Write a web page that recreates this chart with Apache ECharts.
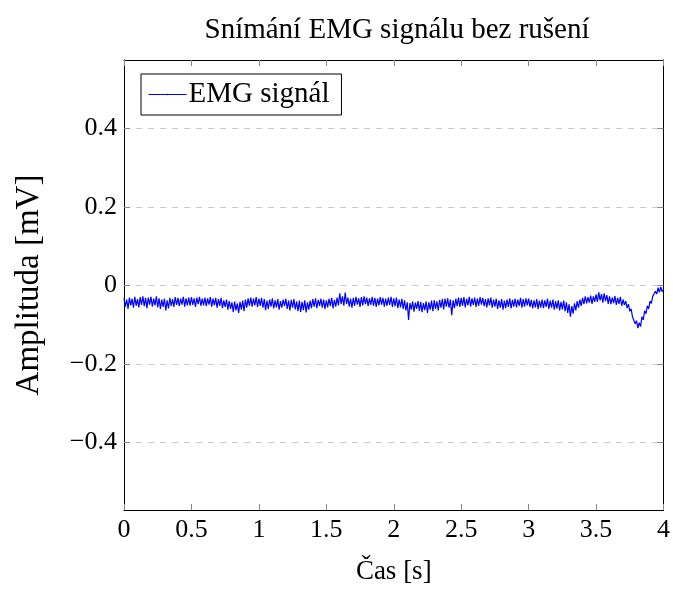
<!DOCTYPE html>
<html>
<head>
<meta charset="utf-8">
<script src="https://cdn.jsdelivr.net/npm/echarts@6/dist/echarts.min.js"></script>
<style>
  html, body { margin: 0; padding: 0; background: #fff; }
  #chart { width: 673px; height: 590px; }
</style>
</head>
<body>
<div id="chart"></div>
<script>
// EMG signal, sampled every 0.01 s from 0 to 4 s
var sampleStep = 0.01;
var emgValues = [
  -0.033,-0.054,-0.036,-0.060,-0.031,-0.051,-0.034,-0.057,-0.029,-0.052,
  -0.035,-0.056,-0.030,-0.050,-0.028,-0.053,-0.032,-0.058,-0.031,-0.049,
  -0.029,-0.054,-0.034,-0.051,-0.028,-0.056,-0.033,-0.060,-0.036,-0.055,
  -0.034,-0.064,-0.038,-0.059,-0.032,-0.052,-0.035,-0.055,-0.030,-0.050,
  -0.032,-0.053,-0.034,-0.049,-0.029,-0.054,-0.033,-0.051,-0.031,-0.052,
  -0.030,-0.050,-0.033,-0.055,-0.031,-0.048,-0.029,-0.052,-0.034,-0.051,
  -0.031,-0.053,-0.033,-0.049,-0.030,-0.054,-0.034,-0.051,-0.032,-0.057,
  -0.035,-0.052,-0.032,-0.058,-0.038,-0.055,-0.036,-0.062,-0.040,-0.060,
  -0.043,-0.068,-0.041,-0.064,-0.046,-0.070,-0.042,-0.062,-0.039,-0.066,
  -0.036,-0.057,-0.033,-0.052,-0.031,-0.054,-0.034,-0.051,-0.030,-0.055,
  -0.034,-0.052,-0.032,-0.057,-0.035,-0.063,-0.039,-0.060,-0.036,-0.054,
  -0.033,-0.059,-0.038,-0.056,-0.035,-0.062,-0.040,-0.057,-0.036,-0.053,
  -0.034,-0.060,-0.039,-0.064,-0.037,-0.057,-0.035,-0.061,-0.041,-0.066,
  -0.039,-0.068,-0.042,-0.063,-0.038,-0.069,-0.043,-0.062,-0.039,-0.058,
  -0.035,-0.054,-0.033,-0.058,-0.037,-0.052,-0.034,-0.057,-0.036,-0.060,
  -0.038,-0.056,-0.034,-0.053,-0.032,-0.059,-0.037,-0.054,-0.031,-0.051,
  -0.020,-0.048,-0.028,-0.052,-0.018,-0.047,-0.031,-0.054,-0.034,-0.057,
  -0.032,-0.052,-0.029,-0.049,-0.033,-0.055,-0.030,-0.051,-0.028,-0.048,
  -0.031,-0.053,-0.033,-0.050,-0.029,-0.052,-0.032,-0.055,-0.034,-0.051,
  -0.030,-0.049,-0.032,-0.054,-0.034,-0.052,-0.031,-0.050,-0.029,-0.055,
  -0.033,-0.053,-0.031,-0.058,-0.036,-0.056,-0.034,-0.060,-0.038,-0.064,
  -0.043,-0.088,-0.045,-0.062,-0.041,-0.067,-0.044,-0.060,-0.040,-0.065,
  -0.042,-0.068,-0.045,-0.063,-0.041,-0.070,-0.043,-0.062,-0.039,-0.066,
  -0.038,-0.060,-0.041,-0.064,-0.037,-0.057,-0.035,-0.061,-0.034,-0.054,
  -0.033,-0.057,-0.036,-0.076,-0.038,-0.058,-0.034,-0.053,-0.031,-0.055,
  -0.032,-0.052,-0.030,-0.056,-0.034,-0.051,-0.029,-0.054,-0.033,-0.050,
  -0.031,-0.055,-0.034,-0.052,-0.030,-0.049,-0.032,-0.053,-0.035,-0.056,
  -0.033,-0.051,-0.031,-0.057,-0.036,-0.054,-0.034,-0.060,-0.038,-0.057,
  -0.035,-0.062,-0.039,-0.058,-0.036,-0.055,-0.033,-0.059,-0.037,-0.054,
  -0.034,-0.056,-0.036,-0.052,-0.032,-0.057,-0.035,-0.054,-0.033,-0.051,
  -0.034,-0.055,-0.037,-0.059,-0.038,-0.056,-0.035,-0.060,-0.039,-0.057,
  -0.036,-0.058,-0.038,-0.055,-0.034,-0.060,-0.039,-0.057,-0.036,-0.062,
  -0.040,-0.059,-0.038,-0.064,-0.042,-0.061,-0.039,-0.066,-0.043,-0.070,
  -0.048,-0.080,-0.053,-0.072,-0.046,-0.064,-0.040,-0.057,-0.036,-0.052,
  -0.032,-0.048,-0.028,-0.046,-0.030,-0.044,-0.026,-0.047,-0.028,-0.042,
  -0.023,-0.042,-0.018,-0.038,-0.022,-0.044,-0.020,-0.040,-0.025,-0.047,
  -0.028,-0.048,-0.031,-0.045,-0.027,-0.050,-0.032,-0.047,-0.029,-0.052,
  -0.036,-0.050,-0.040,-0.058,-0.048,-0.066,-0.060,-0.080,-0.075,-0.098,
  -0.090,-0.109,-0.095,-0.105,-0.080,-0.088,-0.065,-0.072,-0.052,-0.060,
  -0.040,-0.046,-0.028,-0.032,-0.015,-0.022,-0.006,-0.018,-0.004,-0.016,
  -0.010
];
var yTicks = [-0.4, -0.2, 0, 0.2, 0.4];

var emgData = emgValues.map(function (v, i) {
  return [+(i * sampleStep).toFixed(2), v];
});

var font = "'Liberation Serif', 'DejaVu Serif', serif";
function fmt(v) {
  if (v === 0) return '0';
  return v < 0 ? '\u2212' + Math.abs(v) : String(v);
}

var chart = echarts.init(document.getElementById('chart'));
var tickStyle = { show: true, inside: true, length: 6, lineStyle: { color: '#888', width: 1 } };

var option = {
  backgroundColor: '#fff',
  animation: false,
  title: {
    text: 'Snímání EMG signálu bez rušení',
    left: 392,
    top: 11,
    textAlign: 'center',
    textStyle: { fontFamily: font, fontWeight: 'normal', fontSize: 29, color: '#000' }
  },
  legend: {
    left: 141,
    top: 74,
    orient: 'vertical',
    data: ['EMG signál'],
    backgroundColor: '#fff',
    borderColor: '#000',
    borderWidth: 1,
    borderRadius: 0,
    padding: [6, 12, 6, 7],
    itemWidth: 38,
    itemHeight: 2,
    itemGap: 4,
    lineStyle: { width: 1 },
    textStyle: { fontFamily: font, fontSize: 29, color: '#000', padding: [0, 0, 0, -3] }
  },
  grid: { left: 124, right: 8, top: 60, bottom: 77, containLabel: false },
  xAxis: [{
    type: 'value',
    min: 0, max: 4, interval: 0.5,
    name: 'Čas [s]',
    nameLocation: 'middle',
    nameGap: 48,
    nameTextStyle: { fontFamily: font, fontSize: 27, color: '#000' },
    axisLine: { show: true, onZero: false, lineStyle: { color: '#000', width: 1 } },
    axisTick: tickStyle,
    axisLabel: { fontFamily: font, fontSize: 26, color: '#000', margin: 7, formatter: fmt },
    splitLine: { show: false }
  }, {
    type: 'value',
    position: 'top',
    min: 0, max: 4, interval: 0.5,
    axisLine: { show: true, onZero: false, lineStyle: { color: '#000', width: 1 } },
    axisTick: tickStyle,
    axisLabel: { show: false },
    splitLine: { show: false }
  }],
  yAxis: [{
    type: 'value',
    min: -0.573, max: 0.575,
    name: 'Amplituda [mV]',
    nameLocation: 'middle',
    nameGap: 78,
    nameTextStyle: { fontFamily: font, fontSize: 33, color: '#000' },
    axisLine: { show: true, onZero: false, lineStyle: { color: '#000', width: 1 } },
    axisTick: Object.assign({ customValues: yTicks }, tickStyle),
    axisLabel: { customValues: yTicks, fontFamily: font, fontSize: 26, color: '#000', margin: 7, formatter: fmt },
    splitLine: { show: true, customValues: yTicks, lineStyle: { color: '#c8c8c8', type: [6, 6], width: 1 } }
  }, {
    type: 'value',
    position: 'right',
    min: -0.573, max: 0.575,
    axisLine: { show: true, onZero: false, lineStyle: { color: '#000', width: 1 } },
    axisTick: Object.assign({ customValues: yTicks }, tickStyle),
    axisLabel: { show: false, customValues: yTicks },
    splitLine: { show: false }
  }],
  series: [{
    name: 'EMG signál',
    type: 'line',
    xAxisIndex: 0,
    yAxisIndex: 0,
    symbol: 'none',
    lineStyle: { color: '#0000ff', width: 1.2 },
    itemStyle: { color: '#0000ff' },
    data: emgData
  }]
};
chart.setOption(option);
</script>
</body>
</html>
